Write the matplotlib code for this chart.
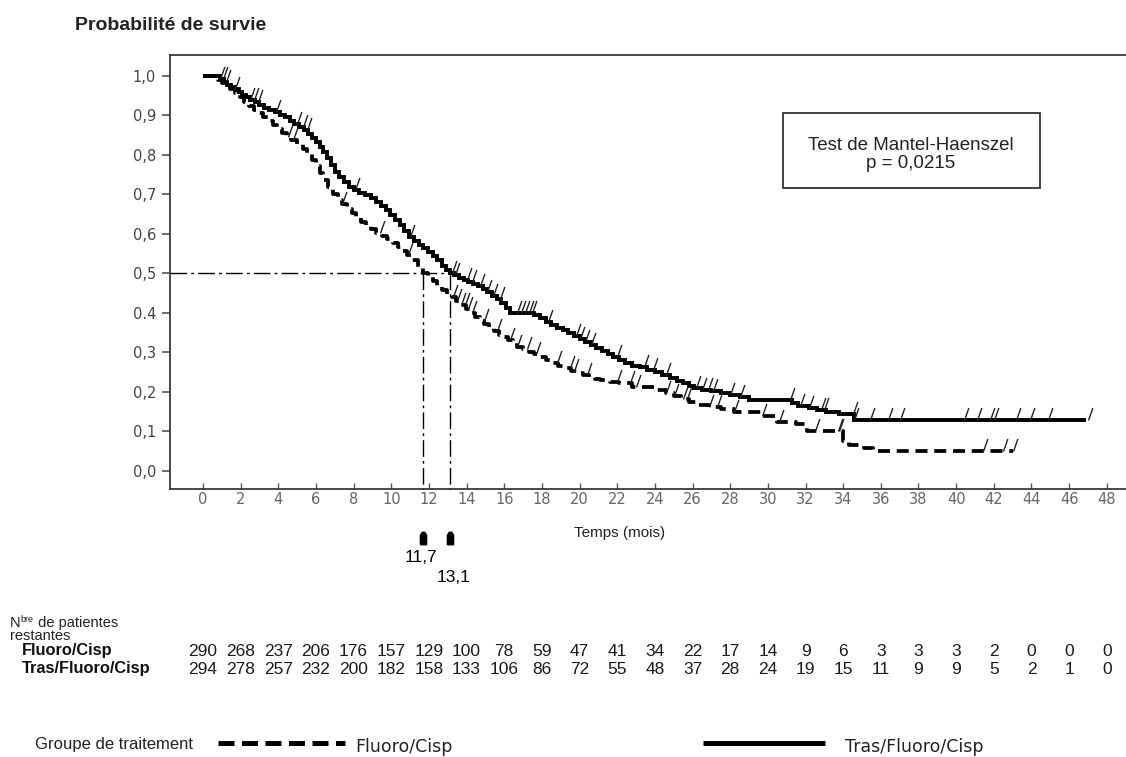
import matplotlib
matplotlib.use("Agg")
import matplotlib.pyplot as plt
import matplotlib.transforms as mtransforms
from matplotlib.path import Path
from matplotlib.patches import Rectangle
from matplotlib.lines import Line2D
import numpy as np

# ---------------- data ----------------
month_ticks = list(range(0, 49, 2))
ytick_values = [1.0, 0.9, 0.8, 0.7, 0.6, 0.5, 0.4, 0.3, 0.2, 0.1, 0.0]
ytick_labels = ["1,0", "0,9", "0,8", "0,7", "0,6", "0,5", "0.4", "0,3", "0,2", "0,1", "0,0"]

at_risk_fluoro = [290, 268, 237, 206, 176, 157, 129, 100, 78, 59, 47, 41, 34,
                  22, 17, 14, 9, 6, 3, 3, 3, 2, 0, 0, 0]
at_risk_tras = [294, 278, 257, 232, 200, 182, 158, 133, 106, 86, 72, 55, 48,
                37, 28, 24, 19, 15, 11, 9, 9, 5, 2, 1, 0]

# Tras/Fluoro/Cisp (solid) step curve: event times (months) and survival
tras_t = [0, 0.9, 1.1, 1.3, 1.5, 1.7, 1.9, 2.1, 2.3, 2.5, 2.75, 3.0, 3.25, 3.5,
          3.8, 4.1, 4.35, 4.6, 4.85, 5.1, 5.35, 5.6, 5.8, 6.0, 6.2, 6.4, 6.6,
          6.8, 7.0, 7.25, 7.5, 7.75, 8.0, 8.3, 8.6, 8.9, 9.2, 9.45, 9.7, 9.95,
          10.2, 10.45, 10.7, 10.95, 11.2, 11.45, 11.7, 11.95, 12.2, 12.45, 12.7,
          12.9, 13.1, 13.35, 13.6, 13.85, 14.1, 14.35, 14.6, 14.85, 15.1, 15.35,
          15.6, 15.85, 16.1, 16.3, 17.6, 17.9, 18.2, 18.5, 18.8, 19.1, 19.4,
          19.7, 20.0, 20.3, 20.6, 20.9, 21.2, 21.5, 21.8, 22.1, 22.4, 22.8,
          23.2, 23.6, 24.0, 24.4, 24.8, 25.2, 25.5, 25.8, 26.1, 26.5, 27.0,
          27.5, 28.0, 28.5, 29.0, 31.3, 31.6, 32.2, 32.6, 33.1, 33.8, 34.6]
tras_s = [1.0, 0.993, 0.985, 0.977, 0.972, 0.966, 0.96, 0.953, 0.947, 0.94,
          0.933, 0.926, 0.919, 0.913, 0.908, 0.902, 0.895, 0.887, 0.879, 0.871,
          0.863, 0.853, 0.842, 0.833, 0.82, 0.807, 0.792, 0.775, 0.758, 0.744,
          0.732, 0.72, 0.711, 0.704, 0.698, 0.691, 0.682, 0.672, 0.661, 0.648,
          0.635, 0.622, 0.607, 0.593, 0.583, 0.573, 0.564, 0.555, 0.545, 0.533,
          0.52, 0.51, 0.50, 0.495, 0.489, 0.484, 0.479, 0.473, 0.467, 0.46,
          0.452, 0.444, 0.435, 0.424, 0.412, 0.40, 0.394, 0.387, 0.378, 0.37,
          0.363, 0.357, 0.35, 0.342, 0.334, 0.327, 0.32, 0.312, 0.304, 0.296,
          0.288, 0.28, 0.273, 0.266, 0.262, 0.256, 0.25, 0.243, 0.236, 0.229,
          0.222, 0.216, 0.21, 0.205, 0.202, 0.198, 0.193, 0.188, 0.18, 0.172,
          0.165, 0.16, 0.155, 0.15, 0.145, 0.13]
tras_end = 46.9
tras_censor = [0.9, 1.05, 1.2, 1.7, 2.5, 2.7, 2.9, 3.9, 5.0, 5.3, 5.5, 8.1, 11.0,
               13.2, 13.4, 14.0, 14.3, 14.7, 15.1, 15.4, 15.8, 16.7, 16.9, 17.1,
               17.3, 17.5, 18.3, 19.8, 20.0, 20.3, 20.6, 22.0, 23.4, 23.9, 24.6,
               26.2, 26.5, 26.8, 27.1, 28.0, 28.5, 31.2, 31.7, 32.2, 32.8, 33.0,
               34.5, 34.6, 35.4, 36.4, 37.0, 40.4, 41.1, 41.8, 42.0, 43.2, 43.9,
               44.9, 47.0]

# Fluoro/Cisp (dashed) step curve
fluoro_t = [0, 0.8, 1.0, 1.2, 1.45, 1.7, 1.95, 2.2, 2.45, 2.7, 2.95, 3.2, 3.45,
            3.7, 3.95, 4.2, 4.45, 4.7, 5.0, 5.3, 5.55, 5.8, 6.0, 6.2, 6.4, 6.65,
            6.9, 7.15, 7.4, 7.65, 7.9, 8.15, 8.4, 8.65, 8.9, 9.2, 9.5, 9.8, 10.1,
            10.35, 10.6, 10.85, 11.1, 11.4, 11.7, 11.95, 12.2, 12.45, 12.7, 12.95,
            13.2, 13.45, 13.7, 13.95, 14.2, 14.45, 14.7, 14.95, 15.2, 15.45, 15.7,
            15.95, 16.2, 16.45, 16.7, 17.0, 17.3, 17.6, 17.9, 18.2, 18.5, 18.85,
            19.2, 19.55, 19.9, 20.2, 20.5, 20.8, 21.1, 21.6, 22.1, 22.8, 24.1,
            24.6, 25.0, 25.4, 25.8, 26.3, 26.9, 27.5, 28.2, 29.7, 30.5, 31.5,
            32.1, 34.0, 34.3, 35.1, 35.6]
fluoro_s = [1.0, 0.99, 0.982, 0.974, 0.966, 0.957, 0.946, 0.935, 0.925, 0.915,
            0.905, 0.895, 0.885, 0.875, 0.865, 0.855, 0.846, 0.838, 0.828, 0.816,
            0.803, 0.788, 0.772, 0.755, 0.737, 0.718, 0.70, 0.687, 0.675, 0.663,
            0.652, 0.641, 0.631, 0.621, 0.612, 0.603, 0.595, 0.587, 0.577, 0.568,
            0.558, 0.546, 0.533, 0.517, 0.50, 0.49, 0.48, 0.469, 0.458, 0.449,
            0.44, 0.43, 0.42, 0.41, 0.40, 0.39, 0.38, 0.371, 0.363, 0.354, 0.345,
            0.338, 0.332, 0.323, 0.315, 0.308, 0.302, 0.295, 0.289, 0.281, 0.273,
            0.266, 0.26, 0.254, 0.248, 0.243, 0.238, 0.234, 0.23, 0.226, 0.222,
            0.213, 0.205, 0.197, 0.19, 0.182, 0.175, 0.168, 0.162, 0.157, 0.15,
            0.14, 0.125, 0.12, 0.10, 0.075, 0.065, 0.058, 0.05]
fluoro_end = 43.0
fluoro_censor = [4.5, 4.8, 7.4, 9.4, 10.9, 13.3, 13.5, 13.7, 13.9, 14.1, 14.3,
                 14.9, 15.6, 16.3, 16.7, 17.2, 17.7, 18.8, 19.5, 19.7, 20.4,
                 22.0, 22.7, 23.0, 24.6, 25.0, 25.5, 25.7, 26.9, 27.3, 28.2,
                 29.7, 30.6, 32.5, 33.7, 33.8, 41.4, 42.5, 43.0]

median_fluoro = 11.7
median_tras = 13.1
median_fluoro_label = "11,7"
median_tras_label = "13,1"

# ---------------- figure ----------------
W, H = 1126, 757
fig = plt.figure(figsize=(W / 100, H / 100), dpi=100)
ax = fig.add_axes([170 / W, 1 - 489 / H, 1 - 170 / W, (489 - 55) / H])
ax.set_xlim(-1.75, 49.02)
ax.set_ylim(-0.0456, 1.053)

spine_c = "#3a3a3a"
for s in ["left", "top", "bottom"]:
    ax.spines[s].set_color(spine_c)
    ax.spines[s].set_linewidth(1.3)
ax.spines["right"].set_visible(False)

ax.set_xticks(month_ticks)
ax.set_xticklabels([str(m) for m in month_ticks], fontsize=10.5, color="#666666")
ax.tick_params(axis="x", direction="in", length=4, width=1, color="#555555", pad=2)
ax.set_yticks(ytick_values)
ax.set_yticklabels(ytick_labels, fontsize=10.5, color="#444444")
ax.tick_params(axis="y", direction="out", length=6, width=1.1, color="#444444", pad=4)

ax.set_xlabel("Temps (mois)", family="Liberation Sans", fontsize=11,
              color="#222222")
ax.xaxis.set_label_coords((620 - 170) / (W - 170), -0.085)


def surv_at(times, surv, t):
    i = np.searchsorted(times, t, side="right") - 1
    return surv[max(i, 0)]


# curves
tt = np.array(tras_t + [tras_end])
ss = np.array(tras_s + [tras_s[-1]])
ax.plot(tt, ss, drawstyle="steps-post", color="black", lw=2.8,
        solid_capstyle="butt", solid_joinstyle="miter", zorder=4)
ft = np.array(fluoro_t + [fluoro_end])
fs = np.array(fluoro_s + [fluoro_s[-1]])
ax.plot(ft, fs, drawstyle="steps-post", color="black", lw=2.7,
        linestyle=(0, (3.2, 1.8)), dash_capstyle="butt", zorder=4)

# censor marks
cmark = Path([(0, 0), (0.35, 1.0)], [Path.MOVETO, Path.LINETO])
tc = [surv_at(tras_t, tras_s, t) for t in tras_censor]
ax.plot(tras_censor, tc, linestyle="none", marker=cmark, markersize=18,
        markeredgewidth=1.0, color="#222222", zorder=5)
fc = [surv_at(fluoro_t, fluoro_s, t) for t in fluoro_censor]
ax.plot(fluoro_censor, fc, linestyle="none", marker=cmark, markersize=18,
        markeredgewidth=1.0, color="#222222", zorder=5)

# median lines
dd = (0, (12, 3, 2, 3))
ax.plot([-1.75, median_tras], [0.5, 0.5], color="black", lw=1.0, linestyle=dd, zorder=3)
ax.plot([median_fluoro, median_fluoro], [0.5, -0.0456], color="black", lw=1.0,
        linestyle=dd, zorder=3, clip_on=False)
ax.plot([median_tras, median_tras], [0.5, -0.0456], color="black", lw=1.0,
        linestyle=dd, zorder=3, clip_on=False)

# median markers below axis
bt = mtransforms.blended_transform_factory(ax.transData, ax.transAxes)
blob = Path([(-0.5, -1), (0.5, -1), (0.5, 0.5), (0.2, 1), (-0.2, 1), (-0.5, 0.5), (-0.5, -1)])
for m in (median_fluoro, median_tras):
    ax.plot([m], [-0.113], transform=bt, marker=blob, markersize=9,
            color="black", clip_on=False)
ax.text(median_fluoro - 0.15, -0.157, median_fluoro_label, transform=bt,
        ha="center", va="center", fontsize=12.5, family="Liberation Sans")
ax.text(median_tras + 0.2, -0.205, median_tras_label, transform=bt,
        ha="center", va="center", fontsize=12.5, family="Liberation Sans")

# Mantel-Haenszel box
fig.patches.append(Rectangle((783 / W, 1 - 188 / H), (1040 - 783) / W, (188 - 113) / H,
                             transform=fig.transFigure, fill=False,
                             edgecolor="#333333", lw=1.3))
fig.text(911 / W, 1 - 145 / H, "Test de Mantel-Haenszel", ha="center", va="center",
         fontsize=13.5, family="Liberation Sans", color="#222222")
fig.text(911 / W, 1 - 164 / H, "p = 0,0215", ha="center", va="center",
         fontsize=13.5, family="Liberation Sans", color="#222222")

# title
fig.text(75 / W, 1 - 25 / H, "Probabilité de survie", ha="left", va="center",
         fontsize=14, fontweight="bold", family="Liberation Sans", color="#222222")

# number at risk table (one column under each month tick)
ft_blend = mtransforms.blended_transform_factory(ax.transData, fig.transFigure)
for m, a, b in zip(month_ticks, at_risk_fluoro, at_risk_tras):
    fig.text(m, 1 - 651 / H, str(a), transform=ft_blend, ha="center", va="center",
             fontsize=12.5, family="Liberation Sans", color="#1a1a1a")
    fig.text(m, 1 - 669 / H, str(b), transform=ft_blend, ha="center", va="center",
             fontsize=12.5, family="Liberation Sans", color="#1a1a1a")

fig.text(22 / W, 1 - 651 / H, "Fluoro/Cisp", ha="left", va="center", fontsize=11.8,
         family="Liberation Sans", fontweight="bold", color="#111111")
fig.text(22 / W, 1 - 669 / H, "Tras/Fluoro/Cisp", ha="left", va="center", fontsize=11.8,
         family="Liberation Sans", fontweight="bold", color="#111111")

renderer = fig.canvas.get_renderer()
tN = fig.text(10 / W, 1 - 627 / H, "N", ha="left", va="baseline", fontsize=10.5,
              family="Liberation Sans", color="#222222")
bbN = tN.get_window_extent(renderer)
tb = fig.text(bbN.x1 / W, 1 - 622 / H, "bre", ha="left", va="baseline", fontsize=6.5,
              family="Liberation Sans", color="#222222")
bbb = tb.get_window_extent(renderer)
fig.text(bbb.x1 / W, 1 - 627 / H, " de patientes", ha="left", va="baseline",
         fontsize=10.5, family="Liberation Sans", color="#222222")
fig.text(10 / W, 1 - 640 / H, "restantes", ha="left", va="baseline", fontsize=10.5,
         family="Liberation Sans", color="#222222")

# legend
fig.text(35 / W, 1 - 745 / H, "Groupe de traitement", ha="left", va="center",
         fontsize=12, family="Liberation Sans", color="#222222")
fig.lines.append(Line2D([218 / W, 345 / W], [1 - 743 / H, 1 - 743 / H],
                        transform=fig.transFigure, color="black", lw=3.6,
                        linestyle=(0, (3.2, 1.5)), dash_capstyle="butt"))
fig.text(355 / W, 1 - 747 / H, "Fluoro/Cisp", ha="left", va="center", fontsize=12.5,
         color="#222222")
fig.lines.append(Line2D([703 / W, 825 / W], [1 - 743 / H, 1 - 743 / H],
                        transform=fig.transFigure, color="black", lw=3.6,
                        solid_capstyle="butt"))
fig.text(845 / W, 1 - 747 / H, "Tras/Fluoro/Cisp", ha="left", va="center", fontsize=12.5,
         color="#222222")

fig.savefig("out.png", dpi=100, facecolor="white")
